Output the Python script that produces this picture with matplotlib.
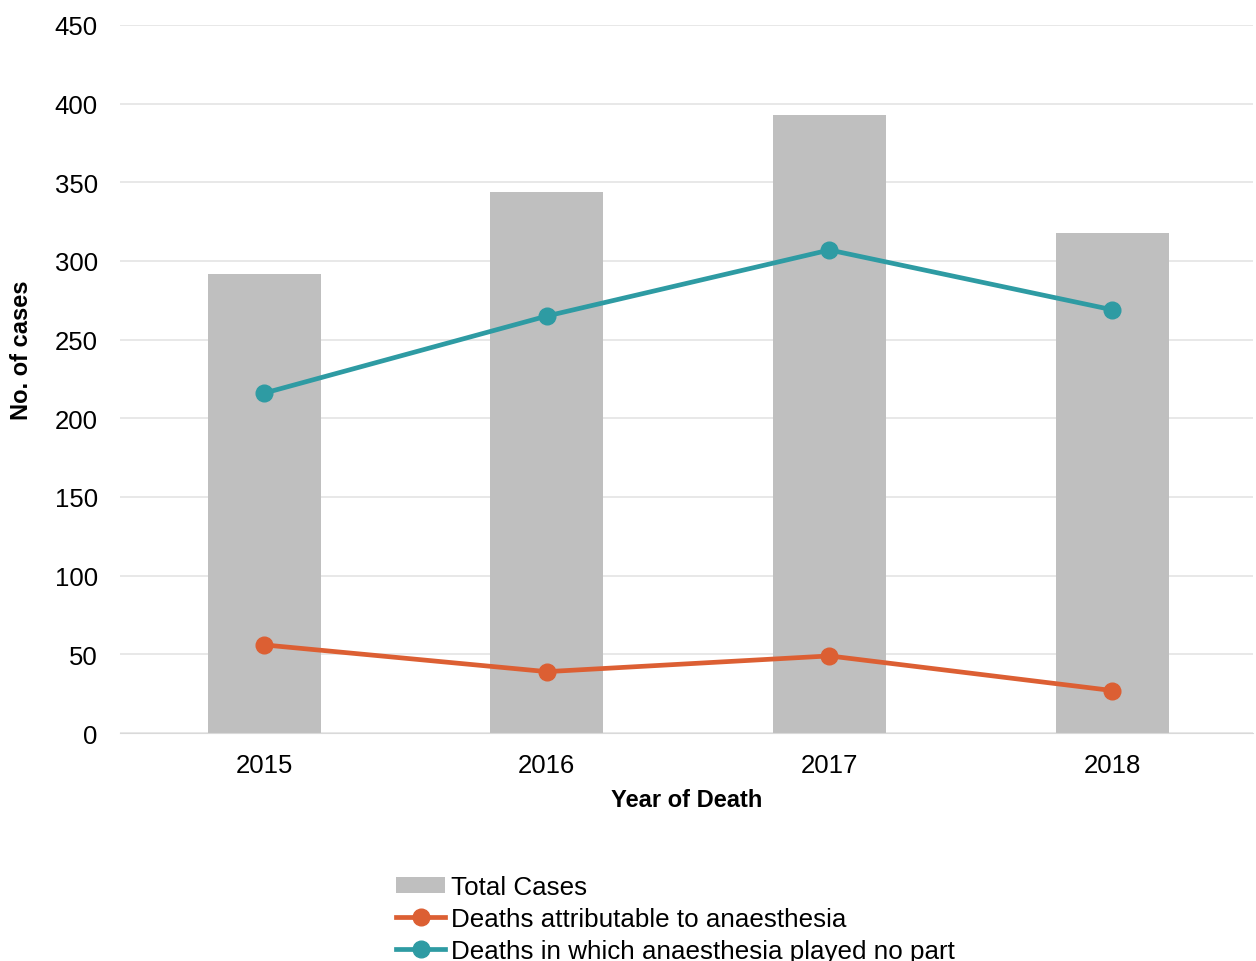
import numpy as np
import matplotlib
matplotlib.use("Agg")
from matplotlib import pyplot as plt

years = ["2015", "2016", "2017", "2018"]
total_cases = [292, 344, 393, 318]
attributable = [56, 39, 49, 27]
no_part = [216, 265, 307, 269]

plt.rcParams['font.family'] = ['Liberation Sans', 'DejaVu Sans']

fig = plt.figure(figsize=(12.56, 9.62), dpi=100)
ax = fig.add_axes([0.0955, 0.237, 0.9025, 0.736])

x = np.arange(len(years))
bars = ax.bar(x, total_cases, width=0.4, color="#BFBFBF", label="Total Cases", zorder=2)
l1, = ax.plot(x, attributable, color="#DC5F33", lw=3.4, marker="o", ms=12,
              label="Deaths attributable to anaesthesia", zorder=3)
l2, = ax.plot(x, no_part, color="#2E9BA3", lw=3.4, marker="o", ms=12,
              label="Deaths in which anaesthesia played no part", zorder=3)

ax.set_xlim(-0.51, 3.5)
ax.set_ylim(0, 450)
ax.set_yticks(range(0, 451, 50))
ax.set_xticks(x)
ax.set_xticklabels(years)
ax.grid(axis="y", color="#E4E4E4", lw=1.2, zorder=0)
ax.set_axisbelow(True)
for s in ["top", "right", "left"]:
    ax.spines[s].set_visible(False)
ax.spines["bottom"].set_color("#D9D9D9")
ax.tick_params(axis="both", length=0, labelsize=18.5, colors="black")
ax.tick_params(axis="x", pad=14.5)
ax.tick_params(axis="y", pad=16)

fig.text(0.5465, 1 - 801 / 962, "Year of Death", ha="center", va="center",
         fontsize=17, fontweight="bold")
fig.text(22 / 1256, 1 - 350 / 962, "No. of cases", ha="center", va="center",
         rotation=90, fontsize=17, fontweight="bold")

fig.legend(handles=[bars, l1, l2], loc="upper left",
           bbox_to_anchor=(396 / 1256, 1 - 876 / 962),
           bbox_transform=fig.transFigure, frameon=False, fontsize=18.7,
           handlelength=1.9, handleheight=0.55, handletextpad=0.23,
           labelspacing=0.3, borderpad=0, borderaxespad=0)

fig.savefig("out.png", dpi=100)
